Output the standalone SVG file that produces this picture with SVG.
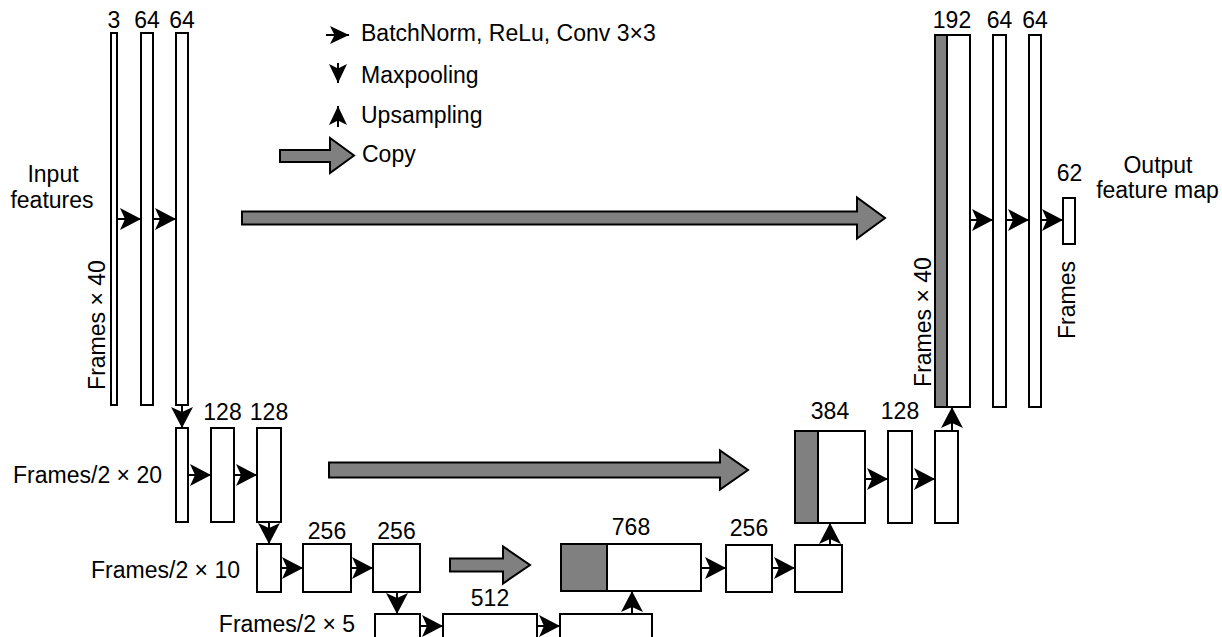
<svg xmlns="http://www.w3.org/2000/svg" width="1222" height="637" viewBox="0 0 1222 637">
<defs>
<style>
.box{fill:#fff;stroke:#000;stroke-width:2}
.grey{fill:#808080;stroke:#000;stroke-width:2}
.t{font-family:"Liberation Sans",Arial,sans-serif;font-size:23px;fill:#000}
.n{font-family:"Liberation Sans",Arial,sans-serif;font-size:23px;fill:#000;text-anchor:middle}
.c{text-anchor:middle}
.e{text-anchor:end}
.conn{stroke:#000;stroke-width:2;fill:none;marker-end:url(#ah)}
.lg{stroke:#000;stroke-width:2;fill:none;marker-end:url(#ahs)}
.copy{fill:#808080;stroke:#000;stroke-width:2;stroke-linejoin:miter}
</style>
<marker id="ah" markerUnits="userSpaceOnUse" viewBox="-22 -12 24 24" refX="0" refY="0" markerWidth="24" markerHeight="24" orient="auto">
<path d="M0,0 L-21,-11 L-16,0 L-21,11 Z" fill="#000"/>
</marker>
<marker id="ahs" markerUnits="userSpaceOnUse" viewBox="-21 -11 22 22" refX="0" refY="0" markerWidth="22" markerHeight="22" orient="auto">
<path d="M0,0 L-19,-9 L-14.5,0 L-19,9 Z" fill="#000"/>
</marker>
</defs>
<rect width="1222" height="637" fill="#fff"/>

<g id="legend">
<line class="lg" x1="326" y1="35" x2="349" y2="35"/>
<text class="t" x="361" y="41">BatchNorm, ReLu, Conv 3×3</text>
<line class="lg" x1="338" y1="63" x2="338" y2="83"/>
<text class="t" x="361" y="83">Maxpooling</text>
<line class="lg" x1="338" y1="127" x2="338" y2="106"/>
<text class="t" x="361" y="123">Upsampling</text>
<polygon class="copy" points="280,150 330,150 330,138 354,155.5 330,173 330,162 280,162"/>
<text class="t" x="362" y="161.5">Copy</text>
</g>

<g id="input_label">
<text class="t c" x="53" y="182">Input</text>
<text class="t c" x="52" y="208">features</text>
<text class="t c" transform="translate(105,325) rotate(-90)">Frames × 40</text>
</g>

<g id="enc0_in"><rect class="box" x="111" y="33" width="6" height="372"/><text class="n" x="114" y="28">3</text></g>
<g id="enc0_64a"><rect class="box" x="141" y="33" width="12" height="372"/><text class="n" x="147" y="28">64</text></g>
<g id="enc0_64b"><rect class="box" x="176" y="33" width="12" height="372"/><text class="n" x="182" y="28">64</text></g>

<g id="enc1_label"><text class="t e" x="162" y="483">Frames/2 × 20</text></g>
<g id="enc1_in"><rect class="box" x="176" y="428" width="12" height="94"/></g>
<g id="enc1_128a"><rect class="box" x="211" y="428" width="23" height="94"/><text class="n" x="222.5" y="420">128</text></g>
<g id="enc1_128b"><rect class="box" x="257" y="428" width="24" height="94"/><text class="n" x="269" y="420">128</text></g>

<g id="enc2_label"><text class="t e" x="240" y="578">Frames/2 × 10</text></g>
<g id="enc2_in"><rect class="box" x="257" y="544" width="24" height="48"/></g>
<g id="enc2_256a"><rect class="box" x="303" y="544" width="48" height="48"/><text class="n" x="327" y="539">256</text></g>
<g id="enc2_256b"><rect class="box" x="373" y="544" width="47" height="48"/><text class="n" x="396.5" y="539">256</text></g>

<g id="enc3_label"><text class="t e" x="355" y="632">Frames/2 × 5</text></g>
<g id="enc3_in"><rect class="box" x="375" y="614" width="45" height="30"/></g>
<g id="enc3_512"><rect class="box" x="443" y="614" width="94" height="30"/><text class="n" x="490" y="606">512</text></g>
<g id="enc3_out"><rect class="box" x="560" y="614" width="92" height="30"/></g>

<g id="dec2_768"><rect class="box" x="561" y="544" width="140" height="47"/><rect class="grey" x="561" y="544" width="46" height="47"/><text class="n" x="631" y="535">768</text></g>
<g id="dec2_256a"><rect class="box" x="726" y="545" width="46" height="47"/><text class="n" x="749" y="536">256</text></g>
<g id="dec2_256b"><rect class="box" x="795" y="545" width="47" height="47"/></g>

<g id="dec1_384"><rect class="box" x="795" y="431" width="70" height="92"/><rect class="grey" x="795" y="431" width="23" height="92"/><text class="n" x="830" y="419">384</text></g>
<g id="dec1_128a"><rect class="box" x="888" y="431" width="24" height="92"/><text class="n" x="900" y="419">128</text></g>
<g id="dec1_128b"><rect class="box" x="935" y="431" width="23" height="92"/></g>

<g id="dec0_192"><rect class="box" x="935" y="35" width="35" height="372"/><rect class="grey" x="935" y="35" width="12" height="372"/><text class="n" x="952" y="28">192</text><text class="t c" transform="translate(931,322) rotate(-90)">Frames × 40</text></g>
<g id="dec0_64a"><rect class="box" x="993" y="35" width="13" height="372"/><text class="n" x="999.5" y="28">64</text></g>
<g id="dec0_64b"><rect class="box" x="1029" y="35" width="12" height="372"/><text class="n" x="1035" y="28">64</text></g>

<g id="output"><rect class="box" x="1063" y="198" width="12" height="46"/><text class="n" x="1069.5" y="181">62</text><text class="t c" transform="translate(1075,300) rotate(-90)">Frames</text>
<text class="t c" x="1158" y="173">Output</text><text class="t c" x="1157.5" y="198">feature map</text></g>

<g id="connectors">
<line class="conn" x1="117" y1="219" x2="141" y2="219"/>
<line class="conn" x1="153" y1="219" x2="176" y2="219"/>
<line class="conn" x1="182" y1="405" x2="182" y2="428"/>
<line class="conn" x1="188" y1="475" x2="211" y2="475"/>
<line class="conn" x1="234" y1="475" x2="257" y2="475"/>
<line class="conn" x1="269" y1="522" x2="269" y2="544"/>
<line class="conn" x1="281" y1="568" x2="303" y2="568"/>
<line class="conn" x1="351" y1="568" x2="373" y2="568"/>
<line class="conn" x1="397" y1="592" x2="397" y2="614"/>
<line class="conn" x1="420" y1="626" x2="443" y2="626"/>
<line class="conn" x1="537" y1="626" x2="560" y2="626"/>
<line class="conn" x1="632" y1="614" x2="632" y2="591"/>
<line class="conn" x1="701" y1="568" x2="726" y2="568"/>
<line class="conn" x1="772" y1="568" x2="795" y2="568"/>
<line class="conn" x1="830" y1="545" x2="830" y2="523"/>
<line class="conn" x1="865" y1="479" x2="888" y2="479"/>
<line class="conn" x1="912" y1="479" x2="935" y2="479"/>
<line class="conn" x1="952" y1="431" x2="952" y2="407"/>
<line class="conn" x1="970" y1="220" x2="993" y2="220"/>
<line class="conn" x1="1006" y1="220" x2="1029" y2="220"/>
<line class="conn" x1="1041" y1="220" x2="1063" y2="220"/>
<polygon class="copy" points="242,211.5 857,211.5 857,197.5 885,218 857,238.5 857,224.5 242,224.5"/>
<polygon class="copy" points="329,462.5 720,462.5 720,450.5 748,470 720,489.5 720,477.5 329,477.5"/>
<polygon class="copy" points="450,558.5 503,558.5 503,546.5 530,565 503,583.5 503,571.5 450,571.5"/>
</g>
</svg>
